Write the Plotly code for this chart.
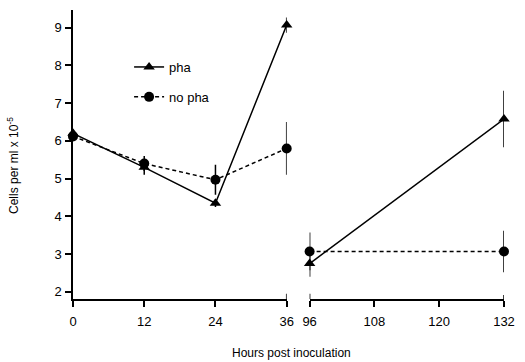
import plotly.graph_objects as go

# Data
hours_early = [0, 12, 24, 36]
hours_late = [96, 132]
pha_early = [6.2, 5.3, 4.35, 9.07]
pha_early_err = [0.1, 0.2, 0.1, 0.2]
pha_late = [2.75, 6.58]
pha_late_err = [0.35, 0.75]
nopha_early = [6.12, 5.4, 4.97, 5.8]
nopha_early_err = [0.1, 0.2, 0.4, 0.7]
nopha_late = [3.07, 3.07]
nopha_late_err = [0.5, 0.55]
x_ticks_early = [0, 12, 24, 36]
x_ticks_late = [96, 108, 120, 132]
y_ticks = [2, 3, 4, 5, 6, 7, 8, 9]

FONT = "Liberation Sans, Arial, sans-serif"
BLACK = "#000000"

def err(vals):
    return dict(type="data", array=vals, visible=True, color=BLACK, thickness=1.5, width=0)

fig = go.Figure()

fig.add_trace(go.Scatter(
    x=hours_early, y=pha_early, mode="lines+markers", name="pha",
    legendgroup="pha",
    line=dict(color=BLACK, width=1.5),
    marker=dict(symbol="triangle-up", size=10, color=BLACK),
    error_y=err(pha_early_err), xaxis="x", yaxis="y", cliponaxis=False))
fig.add_trace(go.Scatter(
    x=hours_early, y=nopha_early, mode="lines+markers", name="no pha",
    legendgroup="nopha",
    line=dict(color=BLACK, width=1.5, dash="4px,3px"),
    marker=dict(symbol="circle", size=10, color=BLACK),
    error_y=err(nopha_early_err), xaxis="x", yaxis="y", cliponaxis=False))
fig.add_trace(go.Scatter(
    x=hours_late, y=pha_late, mode="lines+markers", name="pha",
    showlegend=False,
    line=dict(color=BLACK, width=1.5),
    marker=dict(symbol="triangle-up", size=10, color=BLACK),
    error_y=err(pha_late_err), xaxis="x2", yaxis="y2", cliponaxis=False))
fig.add_trace(go.Scatter(
    x=hours_late, y=nopha_late, mode="lines+markers", name="no pha",
    showlegend=False,
    line=dict(color=BLACK, width=1.5, dash="4px,3px"),
    marker=dict(symbol="circle", size=10, color=BLACK),
    error_y=err(nopha_late_err), xaxis="x2", yaxis="y2", cliponaxis=False))

axis_common = dict(
    showgrid=False, zeroline=False, showline=True, linecolor=BLACK, linewidth=1.5,
    ticks="outside", tickcolor=BLACK, tickwidth=1.5, ticklen=6,
    tickfont=dict(family=FONT, size=13, color=BLACK),
)

PW, PH = 438, 289
yr = [1.81, 9.47]
fig.update_layout(
    width=525, height=362,
    margin=dict(l=73, r=14, t=10, b=63),
    paper_bgcolor="white", plot_bgcolor="white",
    font=dict(family=FONT, size=13, color=BLACK),
    xaxis=dict(domain=[0, 0.4958], range=[0, 36], tickvals=x_ticks_early,
               anchor="y", ticklabelstandoff=4, **axis_common),
    xaxis2=dict(domain=[0.549, 1], range=[96, 132], tickvals=x_ticks_late,
                anchor="y2", ticklabelstandoff=4, **axis_common),
    yaxis=dict(range=yr, tickvals=y_ticks, anchor="x", ticklabelstandoff=1, **axis_common),
    yaxis2=dict(range=yr, anchor="x2", visible=False),
    showlegend=True,
    legend=dict(x=57 / PW, y=(299 - 52) / PH, xanchor="left", yanchor="top",
                bgcolor="rgba(0,0,0,0)", tracegroupgap=10,
                font=dict(family=FONT, size=13, color=BLACK)),
    shapes=[
        dict(type="line", xref="x", yref="paper", x0=36, x1=36, y0=0, y1=0.018,
             line=dict(color=BLACK, width=1.5)),
        dict(type="line", xref="x2", yref="paper", x0=96, x1=96, y0=0, y1=0.018,
             line=dict(color=BLACK, width=1.5)),
        dict(type="line", xref="x2", yref="paper", x0=132, x1=132, y0=0, y1=0.014,
             line=dict(color=BLACK, width=1.5)),
    ],
    annotations=[
        dict(text="Cells per ml x 10<sup>-5</sup>", textangle=-90, xref="paper", yref="paper",
             x=(12 - 73) / PW, y=(299 - 165) / PH, xanchor="center", yanchor="middle",
             showarrow=False, font=dict(family=FONT, size=12, color=BLACK)),
        dict(text="Hours post inoculation", xref="paper", yref="paper",
             x=(295 - 73) / PW, y=(299 - 353) / PH, xanchor="center", yanchor="middle",
             showarrow=False, font=dict(family=FONT, size=12, color=BLACK)),
    ],
)

fig.write_html("out.html", config={"displayModeBar": False},
               post_script="document.body.style.margin='0';document.body.style.overflow='hidden';")
